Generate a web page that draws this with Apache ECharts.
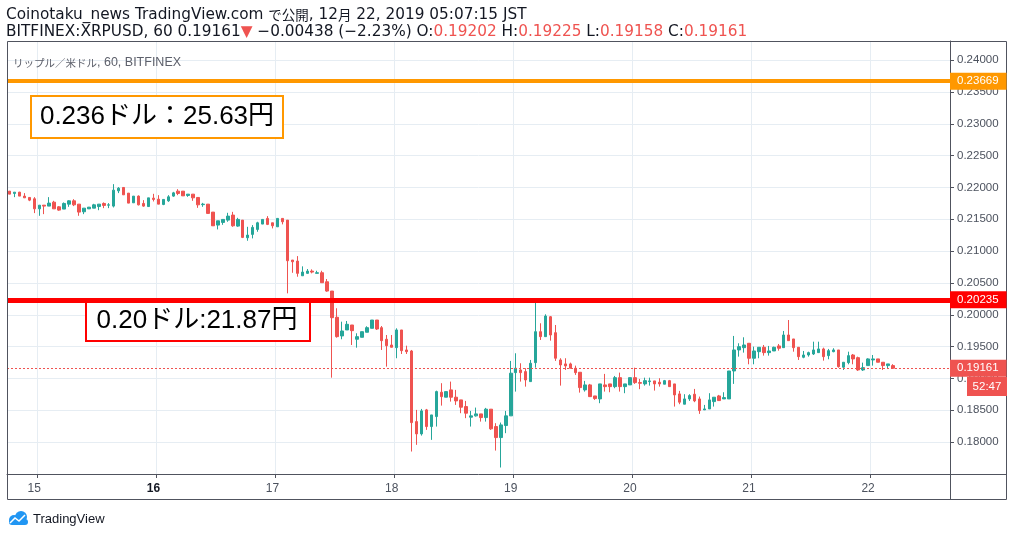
<!DOCTYPE html>
<html>
<head>
	<meta charset="utf-8" />
	<title>リップル／米ドル, 60, BITFINEX</title>
	<script src="https://cdn.jsdelivr.net/npm/echarts@6/dist/echarts.min.js"></script>
	<style>
		html, body { margin: 0; padding: 0; background: #fff; }
		#chartmain { width: 1014px; height: 537px; }
	</style>
</head>
<body>
<div id="chartmain"></div>
<script type="text/javascript">
	// hourly candles, first one = 2019-12-14 19:00 JST, last one = 12-22 05:00
	var opens = [0.21942,0.21906,0.21926,0.21864,0.21843,0.21822,0.21664,0.21722,0.21707,0.21769,
		0.21696,0.21660,0.21738,0.21790,0.21738,0.21618,0.21664,0.21675,0.21700,0.21749,
		0.21722,0.21707,0.21947,0.22000,0.21911,0.21759,0.21864,0.21749,0.21700,0.21832,
		0.21816,0.21733,0.21790,0.21864,0.21942,0.21942,0.21875,0.21895,0.21843,0.21730,
		0.21738,0.21613,0.21409,0.21451,0.21487,0.21566,0.21393,0.21487,0.21210,0.21263,
		0.21341,0.21425,0.21514,0.21445,0.21382,0.21514,0.21487,0.20860,0.20844,0.20613,
		0.20651,0.20687,0.20651,0.20661,0.20519,0.20373,0.19961,0.19668,0.19762,0.19840,
		0.19616,0.19647,0.19726,0.19788,0.19918,0.19798,0.19616,0.19526,0.19484,0.19762,
		0.19448,0.19432,0.18323,0.18130,0.18507,0.18245,0.18402,0.18784,0.18706,0.18821,
		0.18706,0.18664,0.18559,0.18392,0.18413,0.18444,0.18386,0.18518,0.18245,0.18072,
		0.18261,0.18413,0.19092,0.19134,0.19108,0.18951,0.19249,0.19735,0.19657,0.19970,
		0.19719,0.19291,0.19229,0.19229,0.19161,0.19098,0.18821,0.18899,0.18726,0.18679,
		0.18899,0.18915,0.18872,0.19013,0.18872,0.18899,0.19013,0.18935,0.18915,0.18951,
		0.18962,0.18941,0.18910,0.18966,0.18915,0.18758,0.18596,0.18679,0.18753,0.18679,
		0.18507,0.18522,0.18637,0.18726,0.18679,0.18679,0.19118,0.19448,0.19484,0.19553,
		0.19318,0.19421,0.19490,0.19406,0.19432,0.19511,0.19484,0.19683,0.19621,0.19490,
		0.19333,0.19369,0.19385,0.19406,0.19464,0.19359,0.19421,0.19448,0.19177,0.19249,
		0.19369,0.19327,0.19134,0.19202,0.19291,0.19307,0.19255,0.19202,0.19202];
	var closes = [0.21895,0.21926,0.21864,0.21837,0.21801,0.21664,0.21722,0.21707,0.21754,0.21664,
		0.21644,0.21749,0.21790,0.21727,0.21613,0.21675,0.21691,0.21727,0.21738,0.21718,
		0.21727,0.21958,0.21989,0.21884,0.21754,0.21864,0.21727,0.21707,0.21837,0.21812,
		0.21738,0.21812,0.21853,0.21915,0.21906,0.21868,0.21895,0.21837,0.21727,0.21738,
		0.21592,0.21398,0.21476,0.21498,0.21550,0.21398,0.21498,0.21216,0.21252,0.21373,
		0.21445,0.21498,0.21420,0.21398,0.21514,0.21461,0.20849,0.20833,0.20651,0.20671,
		0.20687,0.20671,0.20661,0.20504,0.20373,0.19955,0.19657,0.19746,0.19851,0.19751,
		0.19657,0.19735,0.19798,0.19918,0.19777,0.19594,0.19515,0.19490,0.19762,0.19437,
		0.19421,0.18307,0.18130,0.18491,0.18245,0.18428,0.18794,0.18715,0.18794,0.18706,
		0.18648,0.18549,0.18455,0.18413,0.18444,0.18386,0.18518,0.18209,0.18072,0.18271,
		0.18413,0.19083,0.19161,0.19092,0.18977,0.19239,0.19735,0.19657,0.19981,0.19683,
		0.19318,0.19213,0.19197,0.19161,0.19092,0.18857,0.18899,0.18715,0.18684,0.18915,
		0.18872,0.18872,0.19013,0.18872,0.18915,0.19013,0.18935,0.18925,0.18966,0.18962,
		0.18915,0.18915,0.18966,0.18872,0.18742,0.18628,0.18679,0.18731,0.18648,0.18496,
		0.18522,0.18664,0.18706,0.18653,0.18700,0.19118,0.19448,0.19500,0.19526,0.19318,
		0.19432,0.19490,0.19406,0.19432,0.19490,0.19475,0.19683,0.19594,0.19484,0.19343,
		0.19369,0.19406,0.19448,0.19464,0.19343,0.19437,0.19448,0.19186,0.19255,0.19359,
		0.19307,0.19134,0.19170,0.19307,0.19307,0.19255,0.19202,0.19229,0.19161];
	var lows = [0.21895,0.21848,0.21864,0.21837,0.21785,0.21597,0.21555,0.21581,0.21707,0.21664,
		0.21633,0.21660,0.21696,0.21707,0.21555,0.21581,0.21664,0.21675,0.21643,0.21675,
		0.21675,0.21686,0.21911,0.21884,0.21754,0.21759,0.21718,0.21696,0.21700,0.21780,
		0.21738,0.21722,0.21774,0.21853,0.21879,0.21868,0.21853,0.21790,0.21680,0.21696,
		0.21592,0.21398,0.21341,0.21413,0.21461,0.21382,0.21382,0.21205,0.21163,0.21200,
		0.21304,0.21425,0.21409,0.21357,0.21382,0.21420,0.20337,0.20660,0.20598,0.20613,
		0.20645,0.20651,0.20651,0.20504,0.20362,0.19013,0.19641,0.19616,0.19762,0.19526,
		0.19484,0.19647,0.19726,0.19788,0.19762,0.19448,0.19186,0.19490,0.19318,0.19385,
		0.19385,0.17853,0.17958,0.18103,0.18193,0.18036,0.18245,0.18574,0.18706,0.18637,
		0.18585,0.18455,0.18377,0.18245,0.18402,0.18323,0.18323,0.18193,0.17868,0.17602,
		0.18141,0.18413,0.18794,0.18951,0.18872,0.18951,0.19170,0.19605,0.19657,0.19594,
		0.19276,0.18888,0.19134,0.19161,0.19056,0.18778,0.18794,0.18715,0.18664,0.18612,
		0.18794,0.18784,0.18847,0.18794,0.18769,0.18899,0.18915,0.18832,0.18888,0.18888,
		0.18810,0.18872,0.18910,0.18872,0.18559,0.18596,0.18596,0.18648,0.18628,0.18444,
		0.18507,0.18522,0.18559,0.18648,0.18679,0.18679,0.18915,0.19343,0.19406,0.19223,
		0.19223,0.19318,0.19359,0.19359,0.19432,0.19437,0.19484,0.19594,0.19421,0.19291,
		0.19318,0.19343,0.19369,0.19406,0.19280,0.19302,0.19412,0.19170,0.19134,0.19223,
		0.19223,0.19119,0.19119,0.19202,0.19202,0.19255,0.19134,0.19161,0.19158];
	var highs = [0.21942,0.21926,0.21931,0.21911,0.21843,0.21848,0.21722,0.21722,0.21848,0.21790,
		0.21707,0.21764,0.21801,0.21816,0.21738,0.21675,0.21691,0.21743,0.21738,0.21765,
		0.21754,0.22052,0.22005,0.22005,0.21911,0.21864,0.21875,0.21801,0.21837,0.21900,
		0.21879,0.21812,0.21879,0.21931,0.21973,0.21942,0.21895,0.21895,0.21843,0.21758,
		0.21738,0.21613,0.21476,0.21498,0.21602,0.21617,0.21523,0.21487,0.21382,0.21409,
		0.21461,0.21498,0.21550,0.21445,0.21514,0.21514,0.21487,0.20860,0.20922,0.20761,
		0.20719,0.20714,0.20692,0.20692,0.20562,0.20373,0.20103,0.19892,0.19903,0.19840,
		0.19710,0.19735,0.19820,0.19918,0.19918,0.19824,0.19683,0.19683,0.19788,0.19762,
		0.19515,0.19448,0.18507,0.18522,0.18522,0.18428,0.18809,0.18926,0.18794,0.18951,
		0.18821,0.18664,0.18648,0.18491,0.18543,0.18444,0.18538,0.18518,0.18298,0.18308,
		0.18491,0.19276,0.19396,0.19239,0.19161,0.19291,0.20220,0.19867,0.20008,0.19981,
		0.19840,0.19318,0.19318,0.19249,0.19202,0.19098,0.18962,0.18915,0.18726,0.18915,
		0.19072,0.18915,0.19040,0.19092,0.18915,0.19013,0.19170,0.18993,0.19013,0.19013,
		0.18962,0.19004,0.18977,0.18977,0.18915,0.18805,0.18753,0.18753,0.18836,0.18716,
		0.18585,0.18769,0.18706,0.18742,0.18784,0.19118,0.19668,0.19553,0.19647,0.19553,
		0.19500,0.19490,0.19526,0.19511,0.19500,0.19542,0.19746,0.19918,0.19621,0.19490,
		0.19432,0.19421,0.19578,0.19578,0.19484,0.19464,0.19475,0.19448,0.19255,0.19421,
		0.19385,0.19343,0.19249,0.19318,0.19369,0.19307,0.19255,0.19229,0.19225];

	var orangeLevel = 0.23669;   // 0.236ドル
	var redLevel = 0.20235;      // 0.20ドル
	var boldDays = ['16'];       // week start, drawn bold
	var slotCount = 190;         // candles + empty space on the right

	var upColor = '#26a69a';
	var downColor = '#ef5350';
	var uiFont = "'DejaVu Sans', 'Noto Sans CJK JP', sans-serif";
	var cjkFont = "'Noto Sans CJK JP', sans-serif";
	var axisFont = "'Liberation Sans', sans-serif";
	var noteFont = "'Liberation Sans', 'Noto Sans CJK JP', sans-serif";

	function pad(n) { return n < 10 ? '0' + n : '' + n; }

	var times = [];
	var t0 = Date.UTC(2019, 11, 14, 19);
	for (var i = 0; i < slotCount; i++) {
		var d = new Date(t0 + i * 3600000);
		times.push((d.getUTCMonth() + 1) + '-' + d.getUTCDate() + ' ' + pad(d.getUTCHours()) + ':00');
	}

	var candles = opens.map(function (o, i) {
		return [o, closes[i], lows[i], highs[i]];
	});
	var lastClose = closes[closes.length - 1];

	function isMidnight(idx, val) { return val.slice(-5) === '00:00'; }
	// ticks sit on the band edge, so pick the slot after midnight
	function isDayLine(idx, val) { return val.slice(-5) === '01:00'; }

	function levelLabel(bg) {
		return {
			show: true,
			position: 'end',
			distance: 0,
			formatter: function (p) { return p.value.toFixed(5); },
			color: '#fff',
			backgroundColor: bg,
			padding: [3, 8, 2, 7],
			fontSize: 11.5,
			fontFamily: axisFont
		};
	}

	var myChart = echarts.init(document.getElementById('chartmain'));

	var option = {
		animation: false,
		grid: { left: 7, right: 64, top: 41, bottom: 63 },
		xAxis: {
			type: 'category',
			data: times,
			boundaryGap: true,
			axisLine: { show: true, lineStyle: { color: '#50535e' } },
			axisTick: { show: true, interval: isDayLine, length: 4, lineStyle: { color: '#50535e' } },
			axisLabel: {
				interval: isMidnight,
				color: '#4c525e',
				fontSize: 12,
				fontFamily: axisFont,
				margin: 9,
				formatter: function (val) {
					var day = val.split(' ')[0].split('-')[1];
					return boldDays.indexOf(day) >= 0 ? '{b|' + day + '}' : day;
				},
				rich: { b: { fontWeight: 'bold', fontSize: 12, color: '#131722', fontFamily: axisFont } }
			},
			splitLine: { show: true, interval: isDayLine, lineStyle: { color: '#e6edf3' } }
		},
		yAxis: {
			type: 'value',
			position: 'right',
			min: 0.175,
			max: 0.243,
			interval: 0.005,
			axisLine: { show: true, lineStyle: { color: '#50535e' } },
			axisTick: { show: true, length: 4, lineStyle: { color: '#50535e' } },
			axisLabel: {
				color: '#4c525e',
				fontSize: 11.5,
				fontFamily: axisFont,
				margin: 7,
				showMinLabel: false,
				showMaxLabel: false,
				formatter: function (v) { return v.toFixed(5); }
			},
			splitLine: { show: true, lineStyle: { color: '#e6edf3' } }
		},
		series: [{
			type: 'candlestick',
			data: candles,
			barWidth: 3,
			itemStyle: {
				color: upColor,
				color0: downColor,
				borderColor: upColor,
				borderColor0: downColor,
				borderWidth: 1
			},
			markLine: {
				symbol: 'none',
				silent: true,
				animation: false,
				precision: 5,
				data: [
					{ yAxis: orangeLevel, lineStyle: { color: '#ff9800', width: 4, type: 'solid' }, label: levelLabel('#ff9800') },
					{ yAxis: redLevel, lineStyle: { color: '#ff0000', width: 5, type: 'solid' }, label: levelLabel('#ff0000') },
					{ yAxis: lastClose, lineStyle: { color: downColor, width: 1, type: [2, 2] }, label: levelLabel(downColor) }
				]
			}
		}]
	};
	myChart.setOption(option);

	var axisY = myChart.convertToPixel({ yAxisIndex: 0 }, 0.175);
	var lastY = myChart.convertToPixel({ yAxisIndex: 0 }, lastClose);

	var headFont = '15.3px ' + uiFont;
	var cjkRich = { font: '13.5px ' + cjkFont, fill: '#131722' };

	myChart.setOption({
		graphic: [
			// frame
			{ type: 'rect', silent: true, z: 5, shape: { x: 7.5, y: 41.5, width: 999, height: 458 },
				style: { fill: 'none', stroke: '#50535e', lineWidth: 1 } },
			{ type: 'line', silent: true, z: 5, shape: { x1: 950.5, y1: 41, x2: 950.5, y2: 500 },
				style: { stroke: '#50535e', lineWidth: 1 } },
			{ type: 'line', silent: true, z: 5, shape: { x1: 950, y1: Math.round(axisY) + 0.5, x2: 1007, y2: Math.round(axisY) + 0.5 },
				style: { stroke: '#50535e', lineWidth: 1 } },
			// header
			{ type: 'text', x: 6, y: 15, style: {
				text: 'Coinotaku_news TradingView.com {j|で公開}, 12{j|月} 22, 2019 05:07:15 JST',
				fill: '#131722', font: headFont, verticalAlign: 'middle', rich: { j: cjkRich } } },
			{ type: 'text', x: 6, y: 32, style: {
				text: 'BITFINEX:XRPUSD, 60 0.19161{r|▼} −0.00438 (−2.23%) O:{r|0.19202} H:{r|0.19225} L:{r|0.19158} C:{r|0.19161}',
				fill: '#131722', font: headFont, verticalAlign: 'middle',
				rich: { r: { fill: downColor, font: headFont } } } },
			// pane title
			{ type: 'text', x: 13, y: 63, z: 3, style: { text: '{j|リップル／米ドル}, 60, BITFINEX',
				fill: '#5d606b', font: '12.5px ' + axisFont, verticalAlign: 'middle',
				rich: { j: { font: '10.5px ' + cjkFont, fill: '#5d606b' } } } },
			// notes
			{ type: 'rect', z: 1, shape: { x: 31, y: 96, width: 252, height: 42 },
				style: { fill: '#fff', stroke: '#ff9800', lineWidth: 2 } },
			{ type: 'text', z: 1, x: 157, y: 117, style: { text: '0.236ドル：25.63円', fill: '#000',
				font: '26px ' + noteFont, align: 'center', verticalAlign: 'middle' } },
			{ type: 'rect', z: 1, shape: { x: 86, y: 300, width: 224, height: 41 },
				style: { fill: '#fff', stroke: '#ff0000', lineWidth: 2 } },
			{ type: 'text', z: 1, x: 197, y: 321, style: { text: '0.20ドル:21.87円', fill: '#000',
				font: '26px ' + noteFont, align: 'center', verticalAlign: 'middle' } },
			// bar countdown under the last price
			{ type: 'rect', z: 6, shape: { x: 967, y: Math.round(lastY) + 9, width: 40, height: 19 },
				style: { fill: downColor } },
			{ type: 'text', z: 7, x: 987, y: Math.round(lastY) + 19, style: { text: '52:47', fill: '#fff',
				font: '11.5px ' + axisFont, align: 'center', verticalAlign: 'middle' } },
			// logo
			{ type: 'group', x: 0, y: 0, children: [
				{ type: 'circle', shape: { cx: 14, cy: 520, r: 5 }, style: { fill: '#2196f3' } },
				{ type: 'circle', shape: { cx: 21, cy: 517, r: 6 }, style: { fill: '#2196f3' } },
				{ type: 'rect', shape: { x: 9, y: 519, width: 19, height: 6, r: 3 }, style: { fill: '#2196f3' } },
				{ type: 'polyline', shape: { points: [[10, 523], [15, 518], [19, 521], [25, 515]] },
					style: { stroke: '#fff', lineWidth: 1.5, fill: 'none' } },
				{ type: 'text', x: 33, y: 519, style: { text: 'TradingView', fill: '#131722',
					font: '13px ' + noteFont, verticalAlign: 'middle' } }
			] }
		]
	});
</script>
</body>
</html>
